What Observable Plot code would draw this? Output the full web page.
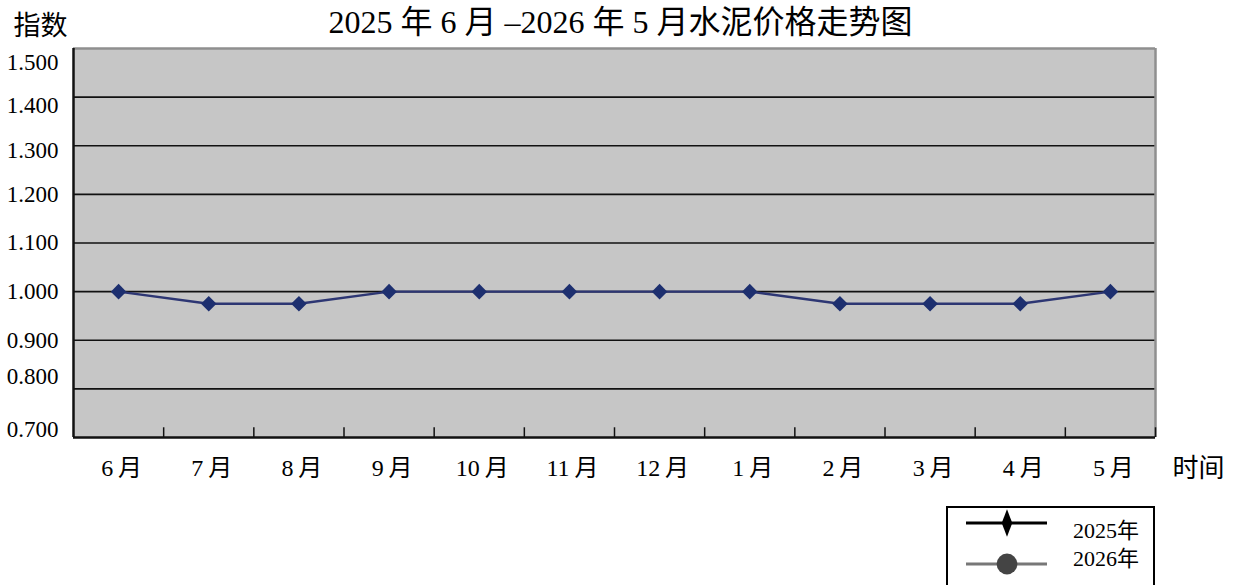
<!DOCTYPE html>
<html>
<head>
<meta charset="utf-8">
<script src="https://cdn.jsdelivr.net/npm/d3@7"></script>
<script src="https://cdn.jsdelivr.net/npm/@observablehq/plot@0.6"></script>
<style>
  body { margin: 0; background: #fff; }
  #wrap { position: relative; width: 1239px; height: 585px; overflow: hidden; }
  #legend {
    position: absolute; left: 946px; top: 506px; width: 205px; height: 90px;
    border: 2px solid #000; background: #fff;
  }
</style>
</head>
<body>
<div id="wrap">
  <div id="chart"></div>
  <div id="legend"></div>
</div>
<script>
const font = '"Liberation Serif", "Noto Sans CJK SC", serif';

// 月份和指数（2025年6月 - 2026年5月）
const months = ["6月", "7月", "8月", "9月", "10月", "11月", "12月", "1月", "2月", "3月", "4月", "5月"];
const index2025 = [1.000, 0.975, 0.975, 1.000, 1.000, 1.000, 1.000, 1.000, 0.975, 0.975, 0.975, 1.000];
const yTicks = [0.7, 0.8, 0.9, 1.0, 1.1, 1.2, 1.3, 1.4, 1.5];
const gridValues = [0.8, 0.9, 1.0, 1.1, 1.2, 1.3, 1.4];
const legendNames = ["2025年", "2026年"];

const title = "2025 年 6 月 –2026 年 5 月水泥价格走势图";

// 每个月份占一个单位宽度，点在中间
const data = months.map((m, i) => ({ pos: i + 0.5, month: m, value: index2025[i] }));
const bounds = d3.range(1, months.length + 1);

// 原图的纵轴标签略有错位
const labelShift = v => v >= 1.45 ? 14 : v >= 1.35 ? 8 : v >= 1.25 ? 5 : v <= 0.75 ? -8 : v <= 0.85 ? -12 : 0;
const shiftGroups = d3.groups(yTicks, labelShift);

const chart = Plot.plot({
  width: 1239,
  height: 490,
  marginTop: 48,
  marginLeft: 73,
  marginRight: 84,
  marginBottom: 53,
  style: { fontFamily: font, background: "#fff", color: "#000" },
  x: { type: "linear", domain: [0, months.length], axis: null, label: null },
  y: { domain: [0.7, 1.5], axis: null, label: null },
  marks: [
    Plot.frame({ fill: "#c6c6c6", stroke: "none" }),
    Plot.ruleY(gridValues, { stroke: "#111", strokeWidth: 1.6 }),
    // 边框：上、右灰色，左、下黑色
    Plot.ruleY([1.5], { stroke: "#8f8f8f", strokeWidth: 2.5 }),
    Plot.ruleX([months.length], { stroke: "#8f8f8f", strokeWidth: 2.5 }),
    Plot.ruleX([0], { stroke: "#111", strokeWidth: 2.5 }),
    Plot.ruleY([0.7], { stroke: "#111", strokeWidth: 2.5 }),
    // 月份之间的刻度
    Plot.ruleX(bounds, { y1: 0.7, y2: 0.72, stroke: "#111", strokeWidth: 1.5 }),
    ...shiftGroups.map(([dy, ticks]) => Plot.axisY(ticks, {
      tickSize: 0, tickPadding: 15, fontSize: 23, label: null, dy,
      tickFormat: d3.format(".3f"), fill: "#000"
    })),
    Plot.axisX(data.map(d => d.pos), {
      tickSize: 0, tickPadding: 21, fontSize: 24, label: null, dx: 3,
      tickFormat: p => months[Math.floor(p)].replace("月", "\u2009月"), fill: "#000"
    }),
    Plot.line(data, { x: "pos", y: "value", stroke: "#2d3673", strokeWidth: 2.4 }),
    Plot.dot(data, { x: "pos", y: "value", symbol: "diamond2", r: 7, fill: "#1d2f6f", stroke: "none" }),
    Plot.text([title], { frameAnchor: "top", lineAnchor: "middle", dx: 6, dy: -26, fontSize: 32, fill: "#000" }),
    Plot.text(["指数"], { frameAnchor: "top-left", lineAnchor: "middle", textAnchor: "middle", dx: -33, dy: -22, fontSize: 27, fill: "#000" }),
    Plot.text(["时间"], { frameAnchor: "bottom-right", lineAnchor: "middle", textAnchor: "middle", dx: 43, dy: 31, fontSize: 26, fill: "#000" })
  ]
});

document.getElementById("chart").append(chart);

// 图例
const leg = d3.select("#legend").append("svg")
  .attr("width", 205).attr("height", 90)
  .style("font-family", font);

const styles = [
  { stroke: "#000", fill: "#000", symbol: d3.symbolDiamond, size: 150, y: 15 },
  { stroke: "#777", fill: "#444", symbol: d3.symbolCircle, size: 340, y: 56 }
];
styles.forEach((s, i) => {
  leg.append("line")
    .attr("x1", 18).attr("x2", 99).attr("y1", s.y).attr("y2", s.y)
    .attr("stroke", s.stroke).attr("stroke-width", 3);
  leg.append("path")
    .attr("d", d3.symbol(s.symbol, s.size)())
    .attr("transform", `translate(59,${s.y}) scale(${i === 0 ? "0.8,1.2" : "1"})`)
    .attr("fill", s.fill);
  leg.append("text")
    .attr("x", 125).attr("y", i === 0 ? 22 : 50)
    .attr("dy", "0.35em")
    .attr("font-size", 22)
    .text(legendNames[i]);
});
</script>
</body>
</html>
